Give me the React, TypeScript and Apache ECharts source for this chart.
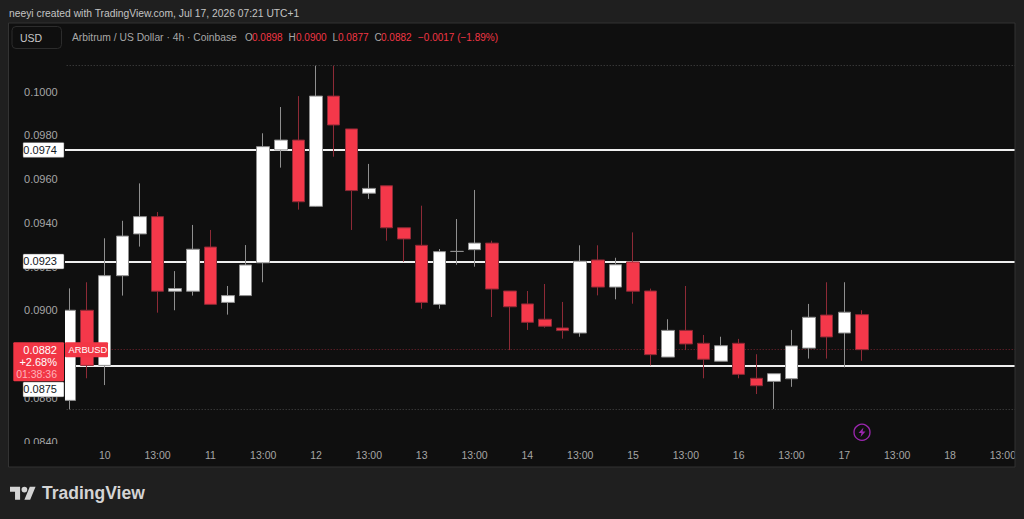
import React, { useEffect, useRef } from "react";
import * as echarts from "echarts";

const opens = [0.08588,0.09,0.08748,0.09158,0.09349,0.09428,0.09087,0.09087,0.09289,0.09036,0.09067,0.09217,0.09733,0.09778,0.09475,0.09979,0.09829,0.09535,0.09569,0.09377,0.09297,0.09027,0.09269,0.09277,0.09307,0.09088,0.09029,0.08959,0.08919,0.08896,0.0923,0.09106,0.09221,0.09088,0.08786,0.08908,0.08849,0.08767,0.08849,0.08689,0.08675,0.08687,0.08827,0.08978,0.08896,0.0898];
const closes = [0.09,0.08748,0.09158,0.09339,0.09428,0.09087,0.09099,0.09279,0.09027,0.09067,0.09207,0.09748,0.09778,0.09496,0.09979,0.09847,0.09547,0.09557,0.09377,0.09326,0.09036,0.09268,0.09269,0.09307,0.09097,0.09016,0.08945,0.08927,0.08907,0.09224,0.09106,0.09208,0.09087,0.08797,0.08908,0.08846,0.08776,0.08838,0.08707,0.08655,0.0871,0.08837,0.08968,0.08878,0.08991,0.0882];
const lows = [0.08547,0.08689,0.08658,0.09067,0.09291,0.08989,0.09,0.09067,0.09027,0.0898,0.09067,0.09128,0.09652,0.0946,0.09472,0.09702,0.09367,0.09509,0.09318,0.09222,0.09007,0.09007,0.09208,0.09199,0.08969,0.08818,0.0891,0.0892,0.0887,0.08879,0.09068,0.0905,0.0903,0.08748,0.08786,0.08818,0.08689,0.08767,0.08689,0.08617,0.08549,0.0865,0.08779,0.08779,0.08739,0.08769];
const highs = [0.091,0.09128,0.09329,0.09409,0.0958,0.09449,0.09179,0.0939,0.09367,0.09111,0.09298,0.09809,0.09929,0.09979,0.10118,0.10118,0.09829,0.09669,0.09569,0.09377,0.09478,0.0928,0.09417,0.0955,0.09318,0.09088,0.09088,0.0912,0.09038,0.09297,0.09297,0.0924,0.09356,0.09099,0.08959,0.09111,0.08887,0.08879,0.08869,0.08799,0.0871,0.0891,0.09029,0.09128,0.09128,0.09];
const xLabels = ["10","13:00","11","13:00","12","13:00","13","13:00","14","13:00","15","13:00","16","13:00","17","13:00","18","13:00"];
const levels = [0.09733, 0.09223, 0.08748];
const levelTags = ["0.0974", "0.0923", "0.0875"];
const viewHigh = 0.10118;
const viewLow = 0.08547;
const lastPrice = 0.0882;
const lastTagLines = ["0.0882", "+2.68%", "01:38:36"];

const headerText = "neeyi created with TradingView.com, Jul 17, 2026 07:21 UTC+1";
const font = '"Liberation Sans", Arial, sans-serif';
const OUTER = "#1f1f1f";
const PANEL = "#0f0f0f";
const RED = "#f23645";
const LOGO = "M14 22H7V11H0V4h14v18zM28 22h-8l7.5-18h8L28 22zM24 8a4 4 0 1 1-8 0 4 4 0 0 1 8 0z";

export default function App() {
  const ref = useRef<HTMLDivElement>(null);
  useEffect(() => {
    if (!ref.current) return;
    const chart = echarts.init(ref.current, undefined, { renderer: "svg" });
    echarts.graphic.registerShape("tvlogo", echarts.graphic.extendPath(LOGO, {}) as any);

    const categories = Array.from({ length: 55 }, (_, i) =>
      i >= 2 && (i - 2) % 3 === 0 ? xLabels[(i - 2) / 3] ?? "" : ""
    );

    const hLine = (v: number, color: string, width: number, type: any) => ({
      yAxis: v,
      lineStyle: { color, width, type, opacity: 1 },
    });

    chart.setOption({
      animation: false,
      backgroundColor: OUTER,
      grid: { left: 60.7, top: 47.75, width: 968.55, height: 393.75, containLabel: false },
      xAxis: {
        type: "category",
        data: categories,
        z: 6,
        boundaryGap: true,
        axisLine: { show: false },
        axisTick: { show: false },
        splitLine: { show: false },
        axisLabel: { interval: 0, color: "#a6a6a6", fontFamily: font, fontSize: 10.5, margin: 8, hideOverlap: false },
      },
      yAxis: {
        type: "value",
        min: 0.084,
        max: 0.102,
        interval: 0.002,
        z: 4,
        scale: true,
        axisLine: { show: false },
        axisTick: { show: false },
        splitLine: { show: false },
        axisLabel: {
          color: "#a6a6a6",
          fontFamily: font,
          fontSize: 11,
          margin: 3,
          showMaxLabel: false,
          formatter: (v: number) => (Math.abs(v - 0.088) < 0.0001 ? "" : v.toFixed(4)),
        },
      },
      series: [
        {
          type: "candlestick",
          barWidth: 13,
          z: 2,
          data: opens.map((o, i) => [o, closes[i], lows[i], highs[i]]),
          itemStyle: {
            color: "#ffffff",
            color0: "#f4384a",
            borderColor: "#8f8f8f",
            borderColor0: "#8e2a36",
            borderColorDoji: "#8f8f8f",
            borderWidth: 1,
          },
          markLine: {
            silent: true,
            symbol: "none",
            precision: 6,
            z: 2,
            label: { show: false },
            animation: false,
            data: [
              hLine(viewHigh, "#4a4a4a", 1, [1, 2]),
              hLine(viewLow, "#4a4a4a", 1, [1, 2]),
              hLine(lastPrice, "#7a2530", 1, [1, 2]),
              hLine(levels[0], "#efefef", 2, "solid"),
              hLine(levels[1], "#efefef", 2, "solid"),
              hLine(levels[2], "#efefef", 2, "solid"),
            ],
          },
        },
      ],
    });

    const py = (v: number) => chart.convertToPixel({ yAxisIndex: 0 }, v) as number;
    const priceTag = (label: string, cy: number) => [
      { type: "rect", z: 7, shape: { x: 23, y: cy - 7.5, width: 41, height: 15, r: 1 }, style: { fill: "#ffffff", stroke: "#555555", lineWidth: 0.5 } },
      { type: "text", z: 8, x: 57, y: cy, style: { text: label, fill: "#131722", font: `11px ${font}`, textAlign: "right", textVerticalAlign: "middle" } },
    ];
    const txt = (x: number, y: number, text: string, fill: string, size = 10, weight = "normal", align = "left", z = 8) => ({
      type: "text", z, x, y,
      style: { text, fill, font: `${weight} ${size}px ${font}`, textAlign: align, textVerticalAlign: "middle" },
    });
    const lastY = py(lastPrice);
    const legendGrey = "#a8a8a8";

    chart.setOption({
      graphic: {
        elements: [
          { type: "rect", z: 0, shape: { x: 8.5, y: 23, width: 1006.5, height: 444 }, style: { fill: PANEL } },
          { type: "rect", z: 3, shape: { x: 9, y: 24, width: 56, height: 442 }, style: { fill: PANEL } },
          { type: "rect", z: 5, shape: { x: 9, y: 444, width: 1006, height: 22 }, style: { fill: PANEL } },
          { type: "rect", z: 9, shape: { x: 1015, y: 0, width: 25, height: 519 }, style: { fill: OUTER } },
          { type: "rect", z: 9, shape: { x: 8.5, y: 23, width: 1006.5, height: 444 }, style: { fill: "none", stroke: "#333333", lineWidth: 1 } },
          txt(9, 13, headerText, "#c4c4c4", 10.3),
          { type: "rect", z: 8, shape: { x: 12, y: 26.5, width: 49.5, height: 22, r: 4 }, style: { fill: PANEL, stroke: "#2c2c2c", lineWidth: 1 } },
          txt(20, 37.5, "USD", "#c8c8c8", 10.5),
          txt(72, 37, "Arbitrum / US Dollar · 4h · Coinbase", legendGrey, 10.3),
          txt(245, 37, "O", legendGrey), txt(252, 37, "0.0898", RED),
          txt(288.5, 37, "H", legendGrey), txt(296, 37, "0.0900", RED),
          txt(332.5, 37, "L", legendGrey), txt(338, 37, "0.0877", RED),
          txt(374.5, 37, "C", legendGrey), txt(381, 37, "0.0882", RED),
          txt(418, 37, "−0.0017 (−1.89%)", RED),
          ...priceTag(levelTags[0], py(levels[0])),
          ...priceTag(levelTags[1], py(levels[1])),
          ...priceTag(levelTags[2], py(levels[2]) + 24),
          { type: "rect", z: 10, shape: { x: 13.3, y: lastY - 7.3, width: 50.7, height: 39, r: 1 }, style: { fill: RED } },
          { type: "rect", z: 10, shape: { x: 65, y: lastY - 7.3, width: 43, height: 15, r: 1 }, style: { fill: RED } },
          txt(57, lastY, lastTagLines[0], "#ffffff", 11, "normal", "right", 11),
          txt(57, lastY + 12, lastTagLines[1], "#ffffff", 11, "normal", "right", 11),
          txt(57, lastY + 24, lastTagLines[2], "#ffb3ba", 10.5, "normal", "right", 11),
          txt(68.5, lastY, "ARBUSD", "#ffffff", 9.3, "normal", "left", 11),
          { type: "circle", z: 8, shape: { cx: 862, cy: 432.3, r: 8 }, style: { fill: "none", stroke: "#9c27b0", lineWidth: 1.3 } },
          { type: "polygon", z: 8, shape: { points: [[863.5, 427.5], [858.5, 433], [861.5, 433], [860.5, 437], [865.5, 431.5], [862.5, 431.5]] }, style: { fill: "#9c27b0" } },
          { type: "tvlogo", z: 8, x: 10, y: 483.8, scaleX: 0.72, scaleY: 0.72, style: { fill: "#d4d4d4" } },
          txt(42, 493, "TradingView", "#d4d4d4", 17.5, "bold"),
        ],
      },
    });

    return () => chart.dispose();
  }, []);
  return (
    <div style={{ position: "absolute", left: 0, top: 0, width: 1024, height: 519, overflow: "hidden" }}>
      <div ref={ref} style={{ width: 1040, height: 519 }} />
    </div>
  );
}
